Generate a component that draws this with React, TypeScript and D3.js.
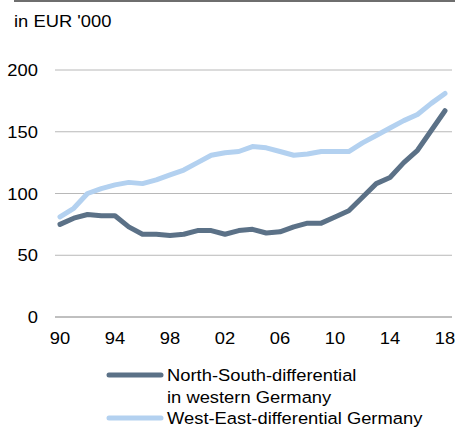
import React from 'react';
import * as d3 from 'd3';

const years = d3.range(1990, 2019);
const northSouth = [75, 80, 83, 82, 82, 73, 67, 67, 66, 67, 70, 70, 67, 70, 71, 68, 69, 73, 76, 76, 81, 86, 97, 108, 113, 125, 135, 151, 167];
const westEast = [81, 88, 100, 104, 107, 109, 108, 111, 115, 119, 125, 131, 133, 134, 138, 137, 134, 131, 132, 134, 134, 134, 141, 147, 153, 159, 164, 173, 181];
const yTicks = [0, 50, 100, 150, 200];
const xTicks = [1990, 1994, 1998, 2002, 2006, 2010, 2014, 2018];

const W = 455;
const H = 429;
const font = 'Arial, "Liberation Sans", sans-serif';
const darkBlue = '#5b7187';
const lightBlue = '#b3d1f0';

// the source text is a little wider than Arial at the same height
function Label({ x, y, anchor = 'start', children }: { x: number; y: number; anchor?: string; children: React.ReactNode }) {
  return (
    <text transform={`translate(${x},${y}) scale(1.08,1)`} textAnchor={anchor} fontSize={17} fill="#000">
      {children}
    </text>
  );
}

export default function App() {
  const x = d3.scaleLinear().domain([1990, 2018]).range([60, 445]);
  const y = d3.scaleLinear().domain([0, 200]).range([317, 70]);
  const line = d3
    .line<number>()
    .x((d, i) => x(years[i]))
    .y(d => y(d));

  return (
    <svg width={W} height={H} style={{ position: 'absolute', left: 0, top: 0 }} fontFamily={font}>
      <rect x={14} y={0} width={W - 14} height={2} fill="#6e6e6e" />
      <Label x={14} y={27}>in EUR '000</Label>

      {yTicks.map(t => (
        <g key={t}>
          <line x1={55} x2={452} y1={y(t)} y2={y(t)} stroke={t === 0 ? '#808080' : '#b8b8b8'} strokeWidth={1} />
          <Label x={38} y={y(t) + 6} anchor="end">{t}</Label>
        </g>
      ))}

      {xTicks.map(t => (
        <Label key={t} x={x(t)} y={344} anchor="middle">
          {String(t % 100).padStart(2, '0')}
        </Label>
      ))}

      <path d={line(westEast) || ''} fill="none" stroke={lightBlue} strokeWidth={5} strokeLinejoin="round" strokeLinecap="round" />
      <path d={line(northSouth) || ''} fill="none" stroke={darkBlue} strokeWidth={5} strokeLinejoin="round" strokeLinecap="round" />

      <line x1={109} x2={161} y1={375} y2={375} stroke={darkBlue} strokeWidth={5} strokeLinecap="round" />
      <Label x={167} y={381}>North-South-differential</Label>
      <Label x={167} y={403}>in western Germany</Label>
      <line x1={109} x2={161} y1={418} y2={418} stroke={lightBlue} strokeWidth={5} strokeLinecap="round" />
      <Label x={167} y={424}>West-East-differential Germany</Label>
    </svg>
  );
}
